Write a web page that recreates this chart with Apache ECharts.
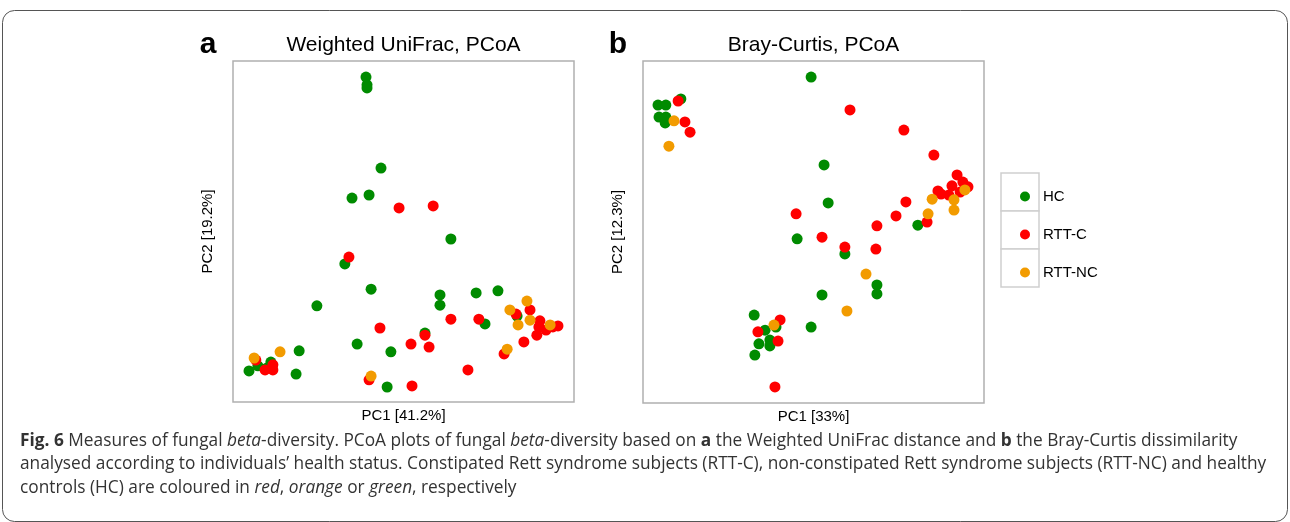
<!DOCTYPE html>
<html>
<head>
<meta charset="utf-8">
<script src="https://cdn.jsdelivr.net/npm/echarts@6/dist/echarts.min.js"></script>
<style>
html,body{margin:0;padding:0;background:#fff;}
#chart{width:1290px;height:522px;}
</style>
</head>
<body>
<div id="chart"></div>
<script>
// ---- Data (axis units: position within plot range, 0..100) ----
const groups = ['HC', 'RTT-C', 'RTT-NC'];
const groupColors = ['#008b00', '#ff0000', '#f29b00'];

const panelTitles = ['Weighted UniFrac, PCoA', 'Bray-Curtis, PCoA'];
const panelLetters = ['a', 'b'];
const xAxisNames = ['PC1 [41.2%]', 'PC1 [33%]'];
const yAxisNames = ['PC2 [19.2%]', 'PC2 [12.3%]'];

// Panel a: Weighted UniFrac
const unifracHC = [
  [39.0,95.3],[39.3,93.0],[39.3,92.1],[43.4,68.6],[39.9,60.7],[34.9,59.8],
  [32.8,40.5],[40.5,33.1],[24.6,28.2],[36.4,17.0],[46.3,14.7],[19.4,15.0],
  [11.1,11.7],[7.3,10.6],[4.7,9.1],[10.0,10.0],[18.5,8.2],[45.2,4.4],
  [63.9,47.8],[60.7,31.4],[60.7,28.4],[71.3,32.0],[77.7,32.6],[73.9,22.9],
  [56.3,20.2],[83.3,25.2]
];
const unifracRTTC = [
  [48.7,56.9],[58.7,57.5],[34.0,42.5],[43.1,21.7],[52.2,17.0],[57.5,16.1],
  [56.3,19.6],[6.7,12.3],[11.7,10.9],[9.4,9.4],[11.7,9.4],[39.9,6.5],
  [52.5,4.7],[68.9,9.4],[63.9,24.3],[72.1,24.3],[79.5,14.1],[85.3,17.6],
  [83.0,25.8],[87.1,27.0],[90.0,23.8],[89.7,22.0],[91.8,21.1],[89.1,19.6],
  [93.8,22.0],[95.3,22.3]
];
const unifracRTTNC = [
  [6.2,12.9],[13.8,14.7],[40.5,7.6],[81.2,27.0],[86.2,29.6],[87.1,24.0],
  [83.6,22.6],[93.0,22.6],[80.4,15.5]
];

// Panel b: Bray-Curtis
const brayHC = [
  [49.3,95.3],[4.4,87.1],[6.7,87.1],[11.1,88.9],[4.7,83.6],[6.7,83.6],
  [6.5,81.9],[53.1,69.6],[54.3,58.5],[45.2,48.0],[59.2,43.6],[68.6,34.5],
  [68.6,31.9],[52.5,31.6],[49.3,22.2],[80.6,52.0],[32.6,25.7],[39.0,22.2],
  [35.8,21.3],[37.2,18.4],[34.0,17.3],[37.2,16.7],[32.8,14.0]
];
const brayRTTC = [
  [10.3,88.3],[12.3,82.2],[13.8,79.2],[60.7,85.7],[76.5,79.8],[85.3,72.5],
  [44.9,55.3],[77.1,58.8],[74.2,54.7],[68.6,51.8],[83.3,52.9],[86.5,62.0],
  [87.4,61.1],[89.7,60.8],[90.6,63.5],[92.1,66.7],[93.8,64.6],[95.3,63.2],
  [93.0,61.7],[52.5,48.5],[59.2,45.6],[68.3,45.0],[40.2,24.3],[33.7,20.8],
  [39.6,18.1],[38.7,4.7]
];
const brayRTTNC = [
  [9.1,82.5],[7.6,75.1],[84.8,59.6],[83.6,55.3],[94.4,62.3],[91.2,59.4],
  [91.2,56.4],[65.4,37.7],[59.8,26.9],[38.4,22.8]
];

const panelData = [
  [unifracHC, unifracRTTC, unifracRTTNC],
  [brayHC, brayRTTC, brayRTTNC]
];

const captionLines = [
  '{b|Fig. 6} Measures of fungal {i|beta}-diversity. PCoA plots of fungal {i|beta}-diversity based on {b|a} the Weighted UniFrac distance and {b|b} the Bray-Curtis dissimilarity',
  'analysed according to individuals\u2019 health status. Constipated Rett syndrome subjects (RTT-C), non-constipated Rett syndrome subjects (RTT-NC) and healthy',
  'controls (HC) are coloured in {i|red}, {i|orange} or {i|green}, respectively'
];

// ---- Layout ----
const FONT = '"Liberation Sans", Arial, Helvetica, sans-serif';
const CAPFONT = '"Open Sans", "Noto Sans", sans-serif';
const grids = [
  {left: 233, top: 61, width: 341, height: 341},
  {left: 643, top: 61, width: 341, height: 342}
];

const chart = echarts.init(document.getElementById('chart'), null, {renderer: 'canvas'});

const series = [];
panelData.forEach((sets, p) => {
  sets.forEach((data, g) => {
    series.push({
      type: 'scatter',
      name: groups[g],
      xAxisIndex: p,
      yAxisIndex: p,
      data: data,
      symbol: 'circle',
      symbolSize: 11,
      itemStyle: {color: groupColors[g], opacity: 1},
      emphasis: {disabled: true},
      z: 2 + g
    });
  });
});

const graphic = [];
// outer figure frame
graphic.push({
  type: 'rect', silent: true, z: -10,
  shape: {x: 2.5, y: 10.5, width: 1285, height: 511, r: 12},
  style: {fill: 'none', stroke: '#555', lineWidth: 1}
});
// panel letters and titles
grids.forEach((g, p) => {
  graphic.push({
    type: 'text', silent: true,
    x: g.left - 25, y: 45,
    style: {text: panelLetters[p], fontSize: 30, fontWeight: 'bold', fontFamily: FONT,
            fill: '#000', align: 'center', verticalAlign: 'middle'}
  });
  graphic.push({
    type: 'text', silent: true,
    x: g.left + g.width / 2, y: 45,
    style: {text: panelTitles[p], fontSize: 21, fontFamily: FONT,
            fill: '#000', align: 'center', verticalAlign: 'middle'}
  });
});
// legend key boxes
for (let i = 0; i < groups.length; i++) {
  graphic.push({
    type: 'rect', silent: true, z: 0,
    shape: {x: 1001, y: 173 + 38 * i, width: 38, height: 38},
    style: {fill: '#fff', stroke: '#cfcfcf', lineWidth: 1.5}
  });
}
// caption
const richBase = {fontSize: 17.3, fontFamily: CAPFONT, fill: '#333'};
captionLines.forEach((line, i) => {
  graphic.push({
    type: 'text', silent: true,
    x: 20, y: 441 + i * 23.5,
    style: Object.assign({}, richBase, {
      text: line, align: 'left', verticalAlign: 'middle',
      rich: {
        b: Object.assign({}, richBase, {fontWeight: 'bold'}),
        i: Object.assign({}, richBase, {fontStyle: 'italic'})
      }
    })
  });
});

const axisCommon = {
  type: 'value', min: 0, max: 100,
  axisLine: {show: false}, axisTick: {show: false},
  axisLabel: {show: false}, splitLine: {show: false},
  nameLocation: 'middle',
  nameTextStyle: {fontSize: 15, fontFamily: FONT, color: '#000'}
};

const option = {
  animation: false,
  backgroundColor: '#fff',
  grid: grids.map(g => Object.assign({show: true, borderColor: '#b0b0b0', borderWidth: 1.5, backgroundColor: 'transparent'}, g)),
  xAxis: grids.map((g, p) => Object.assign({}, axisCommon, {gridIndex: p, name: xAxisNames[p], nameGap: 6})),
  yAxis: grids.map((g, p) => Object.assign({}, axisCommon, {gridIndex: p, name: yAxisNames[p], nameGap: 18})),
  legend: {
    orient: 'vertical', left: 1015, top: 184,
    itemWidth: 10, itemHeight: 10, itemGap: 23,
    icon: 'circle', selectedMode: false,
    data: groups,
    textStyle: {fontSize: 15, lineHeight: 15, fontFamily: FONT, color: '#000', padding: [0, 0, 0, 8]}
  },
  graphic: graphic,
  series: series
};
chart.setOption(option);
</script>
</body>
</html>
